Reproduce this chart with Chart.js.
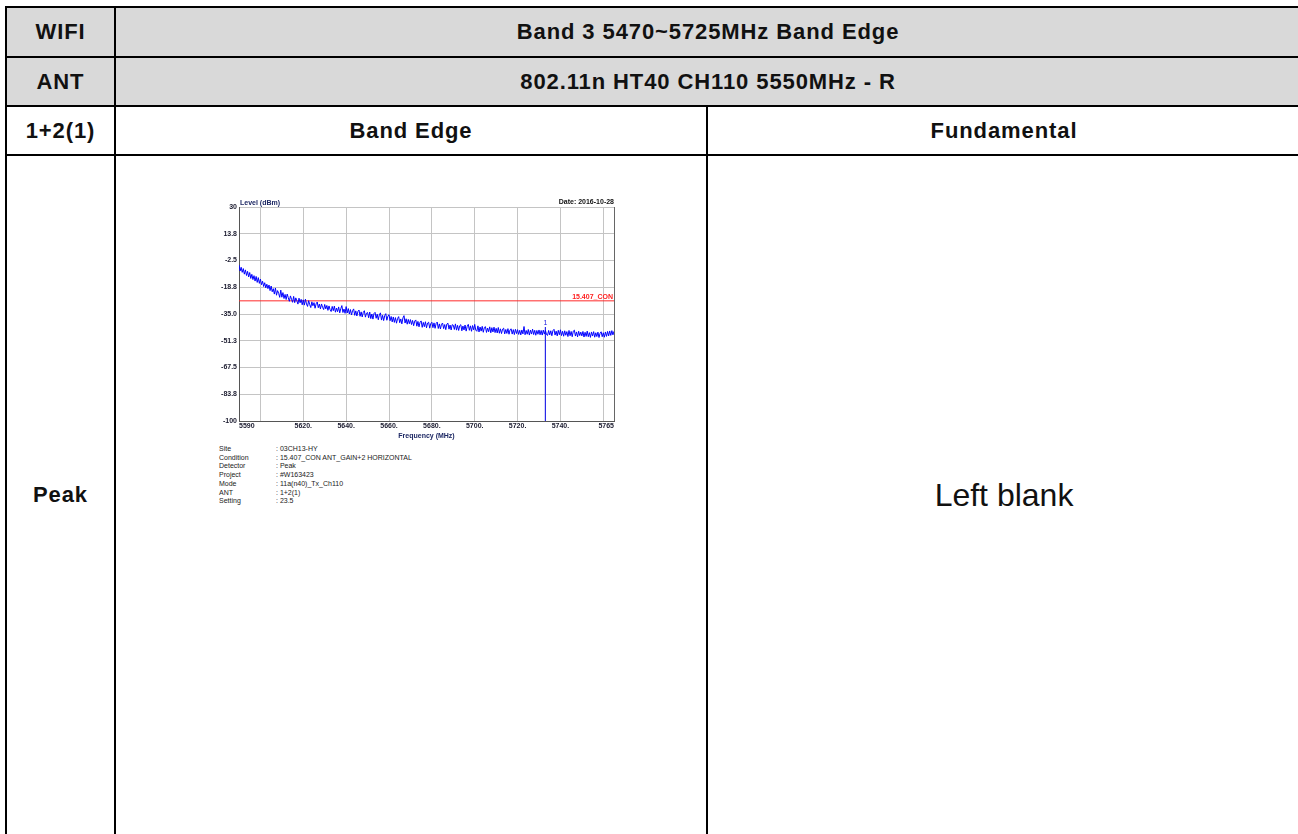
<!DOCTYPE html>
<html>
<head>
<meta charset="utf-8">
<script src="https://cdn.jsdelivr.net/npm/chart.js@4.4.1/dist/chart.umd.min.js"></script>
<style>
  html, body { margin: 0; padding: 0; background: #fff; }
  body { position: relative; width: 1298px; height: 834px; overflow: hidden; font-family: "Liberation Sans", Arial, sans-serif; }
  table.sheet {
    position: absolute; left: 5px; top: 6px; width: 1297px;
    border-collapse: collapse; table-layout: fixed;
  }
  table.sheet td {
    border: 2px solid #000; padding: 0; text-align: center; vertical-align: middle;
    font-weight: bold; font-size: 22px; color: #111; letter-spacing: 0.9px;
  }
  table.sheet tr.hdr td { background: #d9d9d9; }
  table.sheet td.blank { font-weight: normal; font-size: 32px; letter-spacing: 0; }
  #plotBox { position: absolute; left: 200px; top: 190px; width: 431px; height: 250px; }
  #info {
    position: absolute; left: 219px; top: 445px;
    font-size: 7px; line-height: 8.7px; color: #222;
  }
  #info .row { display: flex; }
  #info .k { width: 57px; }
</style>
</head>
<body>

<table class="sheet">
  <colgroup><col style="width:109px"><col style="width:592px"><col style="width:594px"></colgroup>
  <tr class="hdr" style="height:50px"><td>WIFI</td><td colspan="2">Band 3 5470~5725MHz Band Edge</td></tr>
  <tr class="hdr" style="height:49px"><td>ANT</td><td colspan="2">802.11n HT40 CH110 5550MHz - R</td></tr>
  <tr style="height:49px"><td>1+2(1)</td><td>Band Edge</td><td>Fundamental</td></tr>
  <tr style="height:680px"><td>Peak</td><td></td><td class="blank">Left blank</td></tr>
</table>

<div id="plotBox"><canvas id="bandEdgeChart" width="431" height="250"></canvas></div>
<div id="info"></div>

<script>
// --- 轴刻度 ---
const xTickValues = [5590, 5600, 5620, 5640, 5660, 5680, 5700, 5720, 5740, 5760, 5765];
const xTickLabels = ['        5590', '', '5620.', '5640.', '5660.', '5680.', '5700.', '5720.', '5740.', '', '5765        '];
const yTickValues = [30, 13.75, -2.5, -18.75, -35, -51.25, -67.5, -83.75, -100];
const yTickLabels = ['30', '13.8', '-2.5', '-18.8', '-35.0', '-51.3', '-67.5', '-83.8', '-100'];

// --- 扫描数据 (dBm), 5590MHz 起, 每点 0.5MHz ---
const traceStartMHz = 5590;
const traceStepMHz = 0.5;
const traceLevels = [
  -5.2, -8.9, -6.6, -9.7, -7.4, -10.8, -8.2, -11.6, -9.1, -12.5, -9.8, -13.4, -10.9, -14.1, -11.7, -15.0, -12.2, -15.8, -12.9, -16.4,
  -13.8, -17.2, -15.1, -18.3, -16.0, -19.1, -16.9, -19.6, -17.4, -20.8, -18.0, -21.5, -19.6, -22.9, -19.2, -23.6, -20.8, -22.4, -24.9, -20.5,
  -24.8, -22.0, -25.6, -23.1, -26.2, -22.9, -25.1, -27.3, -24.0, -26.0, -27.9, -24.3, -28.1, -25.2, -27.0, -29.0, -25.4, -28.2, -26.1, -29.4,
  -26.4, -29.6, -26.0, -28.9, -30.4, -26.9, -29.3, -31.1, -27.6, -30.0, -28.1, -31.5, -28.8, -27.7, -31.2, -29.0, -31.9, -28.9, -30.9, -32.3,
  -29.2, -31.9, -29.8, -32.8, -30.1, -32.3, -33.5, -30.4, -33.0, -30.2, -33.9, -31.4, -33.6, -30.7, -34.3, -31.8, -29.9, -34.1, -32.0, -34.6,
  -30.5, -34.4, -31.7, -35.0, -32.3, -35.6, -33.0, -31.9, -35.8, -33.1, -36.2, -33.4, -32.6, -36.4, -33.7, -36.8, -34.0, -33.0, -36.9, -34.5,
  -34.1, -37.3, -33.8, -37.8, -35.0, -38.1, -34.7, -34.0, -37.6, -35.1, -38.5, -35.5, -34.3, -38.7, -35.8, -39.0, -36.0, -34.8, -38.8, -36.3,
  -35.4, -39.1, -36.5, -39.8, -36.8, -40.1, -37.2, -40.6, -37.8, -36.6, -40.3, -38.0, -41.0, -37.4, -36.0, -40.5, -37.9, -41.2, -38.3, -40.9,
  -38.4, -41.4, -38.9, -42.1, -39.3, -38.6, -42.4, -39.5, -42.8, -40.0, -39.2, -43.1, -40.1, -42.7, -39.7, -43.4, -40.5, -40.0, -43.6, -40.8,
  -40.0, -43.3, -40.4, -43.7, -40.7, -39.9, -43.8, -41.0, -44.1, -41.2, -40.5, -43.9, -41.4, -44.5, -41.1, -40.6, -44.2, -41.7, -44.7, -41.5,
  -41.8, -44.4, -41.0, -44.8, -41.9, -45.0, -42.1, -41.5, -45.2, -42.3, -44.7, -41.7, -45.4, -42.5, -41.3, -44.9, -42.2, -45.5, -42.0, -44.6,
  -41.3, -44.8, -45.5, -42.2, -45.9, -42.9, -45.4, -42.5, -46.1, -43.2, -42.7, -46.2, -43.5, -45.8, -42.8, -46.4, -43.3, -45.9, -43.0, -46.3,
  -43.7, -46.5, -43.2, -46.7, -44.0, -46.9, -44.2, -43.6, -47.1, -44.4, -46.8, -43.9, -47.3, -44.6, -44.0, -47.2, -44.5, -47.5, -44.3, -46.9,
  -44.5, -47.4, -44.9, -47.7, -44.7, -47.1, -42.6, -47.6, -45.0, -47.3, -44.4, -47.8, -44.8, -47.2, -44.2, -47.5, -44.9, -47.9, -45.0, -47.3,
  -44.7, -47.6, -45.0, -47.8, -44.8, -47.2, -44.9, -47.5, -48.0, -45.0, -47.7, -45.2, -48.2, -45.1, -44.3, -47.8, -45.4, -48.3, -44.9, -47.6,
  -44.6, -48.1, -45.5, -48.5, -45.2, -47.9, -45.7, -48.7, -45.0, -48.2, -45.6, -48.8, -45.4, -44.8, -48.4, -45.9, -48.9, -45.5, -48.1, -46.0,
  -48.3, -45.6, -49.0, -46.1, -48.6, -45.4, -48.8, -46.3, -49.2, -45.9, -48.4, -45.7, -49.1, -46.4, -48.7, -46.0, -49.3, -46.7, -45.8, -48.8,
  -46.4, -49.1, -45.9, -48.6, -45.6, -48.3, -45.3, -48.0, -45.1, -47.7, -45.5
];

// --- 限值线 / Marker ---
const limitName = '15.407_CON';
const limitLevel = -27;
const markerFreq = 5733;
const markerLevels = [-43, -100];
const markerName = '1';

// --- 测试信息 ---
const infoKeys = ['Site', 'Condition', 'Detector', 'Project', 'Mode', 'ANT', 'Setting'];
const infoValues = ['03CH13-HY', '15.407_CON ANT_GAIN+2 HORIZONTAL', 'Peak', '#W163423', '11a(n40)_Tx_Ch110', '1+2(1)', '23.5'];

const infoBox = document.getElementById('info');
infoKeys.forEach((k, i) => {
  const row = document.createElement('div');
  row.className = 'row';
  row.innerHTML = `<span class="k">${k}</span><span>: ${infoValues[i]}</span>`;
  infoBox.appendChild(row);
});

const smallFont = { family: 'Liberation Sans', size: 7, weight: 'bold' };

// 图上的附加文字: 标题, 日期, 限值名称, marker 编号
const annotatePlugin = {
  id: 'annotate',
  afterDatasetsDraw(chart) {
    const { ctx, chartArea, scales } = chart;
    ctx.save();
    ctx.font = 'bold 7px "Liberation Sans"';
    ctx.textBaseline = 'alphabetic';
    ctx.fillStyle = '#1c2763';
    ctx.textAlign = 'left';
    ctx.fillText('Level (dBm)', chartArea.left + 1, chartArea.top - 2);
    ctx.fillStyle = '#111';
    ctx.textAlign = 'right';
    ctx.fillText('Date: 2016-10-28', chartArea.right, chartArea.top - 3);
    ctx.fillStyle = '#ff2020';
    ctx.fillText(limitName, chartArea.right - 1, scales.y.getPixelForValue(limitLevel) - 2);
    ctx.fillStyle = '#2020e0';
    ctx.textAlign = 'center';
    ctx.font = '7px "Liberation Sans"';
    ctx.fillText(markerName, scales.x.getPixelForValue(markerFreq), scales.y.getPixelForValue(markerLevels[0]) - 2);
    ctx.restore();
  }
};

new Chart(document.getElementById('bandEdgeChart').getContext('2d'), {
  type: 'line',
  data: {
    datasets: [
      {
        label: 'trace',
        data: traceLevels.map((v, i) => ({ x: traceStartMHz + i * traceStepMHz, y: v })),
        borderColor: '#0000ff',
        borderWidth: 1,
        pointRadius: 0,
        tension: 0
      },
      {
        label: limitName,
        data: [{ x: xTickValues[0], y: limitLevel }, { x: xTickValues[xTickValues.length - 1], y: limitLevel }],
        borderColor: '#ff2a2a',
        borderWidth: 1,
        pointRadius: 0
      },
      {
        label: 'marker',
        data: markerLevels.map(v => ({ x: markerFreq, y: v })),
        borderColor: '#2a2ae8',
        borderWidth: 1,
        pointRadius: 0
      }
    ]
  },
  options: {
    responsive: false,
    animation: false,
    events: [],
    layout: { padding: { top: 17, right: 17, left: 0, bottom: 0 } },
    plugins: { legend: { display: false }, tooltip: { enabled: false } },
    scales: {
      x: {
        type: 'linear',
        min: xTickValues[0],
        max: xTickValues[xTickValues.length - 1],
        afterBuildTicks: s => { s.ticks = xTickValues.map(v => ({ value: v })); },
        afterFit: s => { s.height = 19; },
        ticks: {
          autoSkip: false, maxRotation: 0, padding: 1,
          font: smallFont, color: '#1a1a2e',
          callback: v => xTickLabels[xTickValues.indexOf(v)]
        },
        grid: {
          drawTicks: false,
          color: c => (c.tick && c.tick.value === xTickValues[xTickValues.length - 1]) ? '#666' : '#c4c4c4'
        },
        border: { color: '#555', width: 1 },
        title: { display: true, text: 'Frequency (MHz)', font: smallFont, color: '#1c2763', padding: 0 }
      },
      y: {
        min: -100,
        max: 30,
        afterBuildTicks: s => { s.ticks = yTickValues.map(v => ({ value: v })); },
        afterFit: s => { s.width = 39; },
        ticks: {
          autoSkip: false, padding: 2,
          font: smallFont, color: '#1a1a2e',
          callback: v => yTickLabels[yTickValues.indexOf(v)]
        },
        grid: { drawTicks: false, color: '#c4c4c4' },
        border: { color: '#555', width: 1 }
      }
    }
  },
  plugins: [annotatePlugin]
});
</script>
</body>
</html>
